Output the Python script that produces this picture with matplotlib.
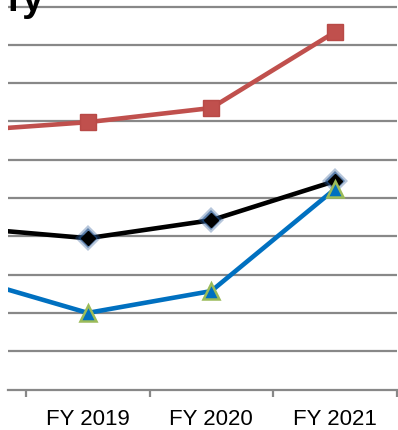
import matplotlib.pyplot as plt
import numpy as np

# data (one gridline = 1 unit)
years = ['FY 2018', 'FY 2019', 'FY 2020', 'FY 2021']
red_vals = [6.75, 6.98, 7.35, 9.33]
black_vals = [4.23, 3.95, 4.42, 5.44]
blue_vals = [2.94, 2.00, 2.57, 5.23]

plt.rcParams['font.family'] = ['Liberation Sans', 'DejaVu Sans']

fig = plt.figure(figsize=(3.98, 4.30), dpi=100)
ax = fig.add_axes([8/398, 40.5/430, 388.5/398, 389.5/430])

x = np.arange(len(years))

# gridlines
for g in range(1, 11):
    ax.axhline(g, color='#888888', lw=1.6, zorder=0)

# red series
ax.plot(x, red_vals, color='#C0504D', lw=3.3, marker='s', markersize=12,
        markerfacecolor='#C0504D', markeredgecolor='#B84A47', zorder=3)

# black series with blue glow on the markers
ax.plot(x, black_vals, color='black', lw=3.3, zorder=3)
ax.plot(x, black_vals, ls='none', marker='D', markersize=13,
        color='#2E5E9A', alpha=0.35, markeredgewidth=0, zorder=4)
ax.plot(x, black_vals, ls='none', marker='D', markersize=10,
        color='#1F4F8A', alpha=0.6, markeredgewidth=0, zorder=4)
ax.plot(x, black_vals, ls='none', marker='D', markersize=7,
        color='black', zorder=4)

# blue series
ax.plot(x, blue_vals, color='#0070C0', lw=3.3, marker='^', markersize=11,
        markerfacecolor='#0070C0', markeredgecolor='#9BBB59',
        markeredgewidth=1.8, zorder=5)

ax.set_xticks([0.5, 1.5, 2.5, 3.5])
ax.set_xticklabels([])
ax.set_xticks(x, minor=True)
ax.set_xticklabels(years, minor=True, fontsize=16)
ax.tick_params(axis='x', which='major', length=5, width=1.6, color='#888888', direction='out')
ax.tick_params(axis='x', which='minor', length=0, pad=14)
ax.set_yticks([])

# only part of the first year shows, like in the cropped original
ax.set_xlim(0.354, 3.5)
ax.set_ylim(0, 10.17)

for s in ['left', 'right', 'top']:
    ax.spines[s].set_visible(False)
ax.spines['bottom'].set_color('#888888')
ax.spines['bottom'].set_linewidth(1.6)

# title, mostly cut off at the top of the picture
fig.text(44/398, 1 - 11/430, 'ry', fontsize=28, fontweight='bold',
         ha='right', va='baseline')

fig.savefig('out.png', dpi=100)
